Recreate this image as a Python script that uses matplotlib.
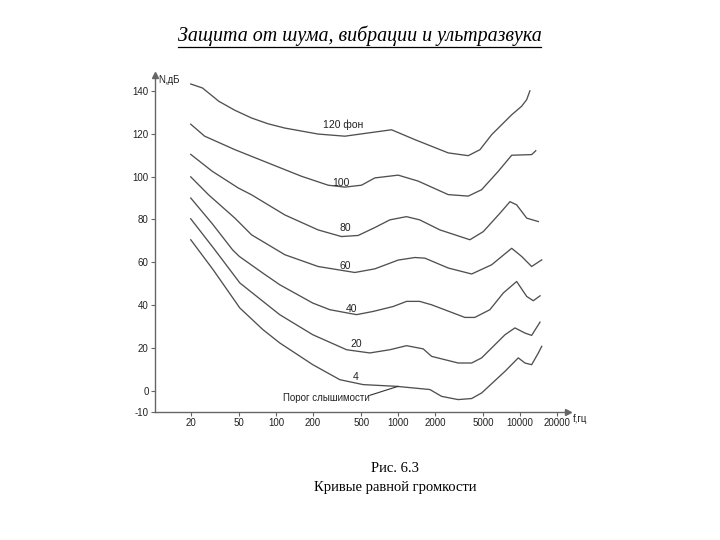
import matplotlib
matplotlib.use("Agg")
import matplotlib.pyplot as plt
from matplotlib.ticker import FixedLocator, NullLocator, FixedFormatter
from matplotlib.lines import Line2D

# ---- data ----
f120 = [20, 25, 34, 46, 63, 86, 118, 221, 366, 534, 883, 1370, 2570, 3750, 4680, 5830, 8510, 10270, 11300, 12000]
n120 = [143.3, 141.4, 135.2, 131.0, 127.4, 124.7, 122.7, 119.9, 118.9, 120.2, 121.9, 117.3, 111.1, 109.8, 112.6, 119.6, 128.9, 132.9, 136.0, 140.1]

f100 = [20, 26, 46, 86, 161, 267, 366, 501, 644, 1000, 1460, 2570, 3750, 4830, 6610, 8510, 12400, 13400]
n100 = [124.5, 118.9, 112.6, 106.4, 100.2, 96.0, 95.1, 96.0, 99.4, 100.7, 97.9, 91.6, 90.9, 93.9, 102.5, 110.0, 110.3, 112.1]

f80 = [20, 30, 49, 63, 118, 221, 343, 470, 644, 855, 1170, 1500, 2200, 3870, 4980, 6820, 8240, 9350, 11300, 14070]
n80 = [110.4, 102.5, 94.7, 91.5, 82.1, 75.1, 72.0, 72.5, 76.2, 79.8, 81.3, 79.8, 75.1, 70.5, 74.3, 82.9, 88.3, 86.8, 80.6, 79.0]

f60 = [20, 28, 46, 63, 118, 221, 442, 644, 1000, 1371, 1656, 2570, 4000, 5830, 8510, 10270, 12400, 15000]
n60 = [99.9, 91.5, 80.6, 72.8, 63.5, 58.0, 55.2, 56.9, 61.0, 62.2, 61.9, 57.3, 54.5, 58.8, 66.5, 62.7, 58.0, 61.1]

f40 = [20, 30, 44, 50, 78, 107, 200, 276, 456, 624, 910, 1172, 1500, 1880, 3520, 4240, 5640, 7260, 9350, 11300, 12800, 14520]
n40 = [90.0, 78.0, 65.8, 62.7, 54.9, 49.5, 40.9, 37.8, 35.5, 37.0, 39.3, 41.7, 41.7, 40.1, 34.2, 34.2, 37.8, 45.6, 51.0, 44.0, 42.0, 44.3]

f20 = [20, 31.5, 50.5, 107, 200, 378, 586, 855, 1172, 1604, 1880, 3100, 4000, 4830, 7500, 9050, 10930, 12400, 14520]
n20 = [80.3, 65.8, 50.3, 35.5, 26.1, 19.1, 17.6, 19.1, 21.0, 19.5, 16.0, 12.9, 12.9, 15.3, 26.1, 29.3, 26.9, 25.8, 32.0]

f4 = [20, 30.5, 50.5, 78, 107, 200, 333, 517, 965, 1820, 2270, 3100, 4000, 4830, 7500, 9640, 10930, 12400, 14070, 15000]
n4 = [70.5, 56.5, 38.6, 28.5, 22.3, 12.1, 5.1, 2.8, 2.0, 0.5, -2.7, -4.2, -3.7, -1.1, 9.0, 15.3, 12.9, 12.1, 17.6, 20.7]

curves = [(f120, n120), (f100, n100), (f80, n80), (f60, n60), (f40, n40), (f20, n20), (f4, n4)]
curve_labels = ["120 фон", "100", "80", "60", "40", "20", "4"]

xticks = [20, 50, 100, 200, 500, 1000, 2000, 5000, 10000, 20000]
xticklabels = ["20", "50", "100", "200", "500", "1000", "2000", "5000", "10000", "20000"]
yticks = [-10, 0, 20, 40, 60, 80, 100, 120, 140]
yticklabels = ["-10", "0", "20", "40", "60", "80", "100", "120", "140"]

title = "Защита от шума, вибрации и ультразвука"
cap1 = "Рис. 6.3"
cap2 = "Кривые равной громкости"
threshold_label = "Порог слышимости"

# ---- drawing ----
sans = ["Liberation Sans", "DejaVu Sans"]
serif = ["Liberation Serif", "DejaVu Serif"]

fig = plt.figure(figsize=(7.2, 5.4), dpi=100)
ax = fig.add_axes([155/720, 1-412/540, (568-155)/720, (412-75)/540])
ax.set_xscale("log")
ax.set_xlim(10.19, 24620)
ax.set_ylim(-10, 147.5)

line_col = "#505050"
for f, n in curves:
    ax.plot(f, n, color=line_col, lw=0.95, solid_joinstyle="round")

label_pos = [(353, 124.1), (338, 96.9), (366, 75.9), (366, 58.3), (415, 38.1), (456, 21.9), (450, 6.4)]
for (x, y), t in zip(label_pos, curve_labels):
    ax.text(x, y, t, ha="center", va="center", fontsize=7.5, family=sans, color="#222")

ax.text(258, -3.3, threshold_label, ha="center", va="center", fontsize=7, family=sans, color="#222")
ax.plot([586, 1000], [-2.2, 2.0], color="#333", lw=0.8)

for s in ["top", "right"]:
    ax.spines[s].set_visible(False)
for s in ["left", "bottom"]:
    ax.spines[s].set_color("#666")
    ax.spines[s].set_linewidth(1.0)

ax.xaxis.set_major_locator(FixedLocator(xticks))
ax.xaxis.set_major_formatter(FixedFormatter(xticklabels))
ax.xaxis.set_minor_locator(NullLocator())
ax.set_yticks(yticks)
ax.set_yticklabels(yticklabels)
ax.tick_params(axis="both", direction="out", length=3, width=0.8, colors="#666",
               labelcolor="#222", labelsize=7, pad=1.5)
for lab in ax.get_xticklabels() + ax.get_yticklabels():
    lab.set_family(sans)

# axis arrows
ax.plot([1], [0], marker=">", color="#666", ms=4, transform=ax.transAxes, clip_on=False)
ax.plot([0], [1], marker="^", color="#666", ms=4, transform=ax.transAxes, clip_on=False)

fig.text(169/720, 1-80/540, "N,дБ", ha="center", va="center", fontsize=7, family=sans, color="#222")
fig.text(580/720, 1-419/540, "f,гц", ha="center", va="center", fontsize=7, family=sans, color="#222")

# title with underline
t = fig.text(359.5/720, 1-36/540, title, ha="center", va="center", fontsize=14.4,
             family=serif, style="italic", color="black")
fig.canvas.draw()
bb = t.get_window_extent(renderer=fig.canvas.get_renderer())
uy = 1 - 46.5/540
fig.add_artist(Line2D([bb.x0/720, bb.x1/720], [uy, uy], transform=fig.transFigure,
                      color="black", lw=0.9))

fig.text(395/720, 1-469/540, cap1, ha="center", va="center", fontsize=10.5, family=serif)
fig.text(395/720, 1-487/540, cap2, ha="center", va="center", fontsize=10.5, family=serif)

fig.savefig("out.png", dpi=100)
